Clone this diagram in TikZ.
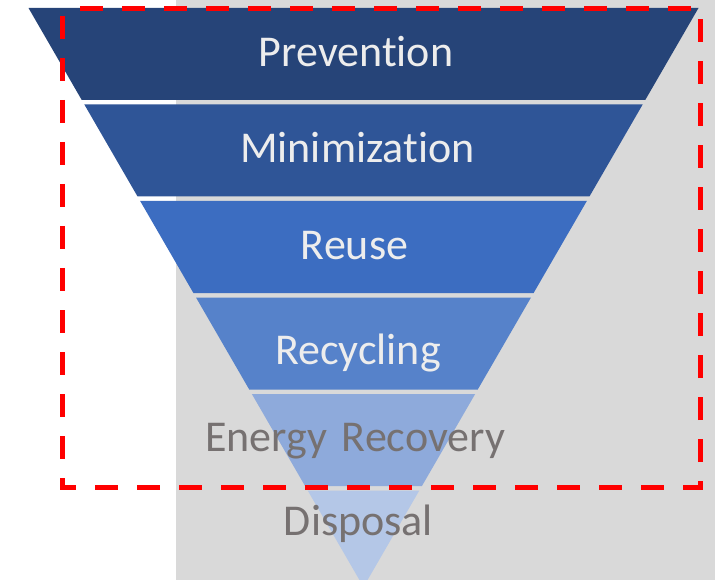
\documentclass[tikz,border=0pt]{standalone}
\usepackage{fontspec}
\setmainfont[Ligatures=NoCommon]{Carlito}
\definecolor{bgray}{HTML}{D9D9D9}
\definecolor{bandA}{HTML}{264478}
\definecolor{bandB}{HTML}{2F5597}
\definecolor{bandC}{HTML}{3C6DC1}
\definecolor{bandD}{HTML}{5682CA}
\definecolor{bandE}{HTML}{8EAADB}
\definecolor{bandF}{HTML}{B4C7E7}
\definecolor{lighttext}{HTML}{EDEDED}
\definecolor{darktext}{HTML}{767171}
\begin{document}
\begin{tikzpicture}[x=1pt,y=-1pt,
  lbl/.style={anchor=base,inner sep=0pt,font=\fontsize{44}{51}\selectfont},
  lightlbl/.style={lbl,text=lighttext},
  darklbl/.style={lbl,text=darktext},
  frame/.style={draw=red,line width=5pt,dash pattern=on 23pt off 19pt,dash phase=35pt}]
\useasboundingbox (0,0) rectangle (715,580);
\fill[bgray] (176,0) rectangle (715,580);
\begin{scope}
\clip (0,0) rectangle (715,580);
\foreach \t/\c in {8/bandA,104.5/bandB,201/bandC,297.5/bandD,394/bandE}{
  \pgfmathsetmacro{\b}{\t+92}
  \pgfmathsetmacro{\ht}{0.57858*(587-\t)}
  \pgfmathsetmacro{\hb}{0.57858*(587-\b)}
  \fill[\c] ({363.5-\ht},\t) -- ({363.5+\ht},\t) -- ({363.5+\hb},\b) -- ({363.5-\hb},\b) -- cycle;
}
\fill[bandF] (307.7,490.5) -- (419.3,490.5) -- (363.5,587) -- cycle;
\end{scope}
\node[lightlbl] (prev) at (356,67) {Prevention};
\node[lightlbl] (mini) at (357.5,163) {Minimization};
\node[lightlbl] (reuse) at (354.5,260) {Reuse};
\node[lightlbl] (recy) at (358,364) {Recycling};
\node[darklbl] (energy) at (355,451) {Energy\hspace{5pt} Recovery};
\node[darklbl] (disp) at (358.5,535) {Disposal};
\draw[frame] (62,9) rectangle (700,487);
\end{tikzpicture}
\end{document}
